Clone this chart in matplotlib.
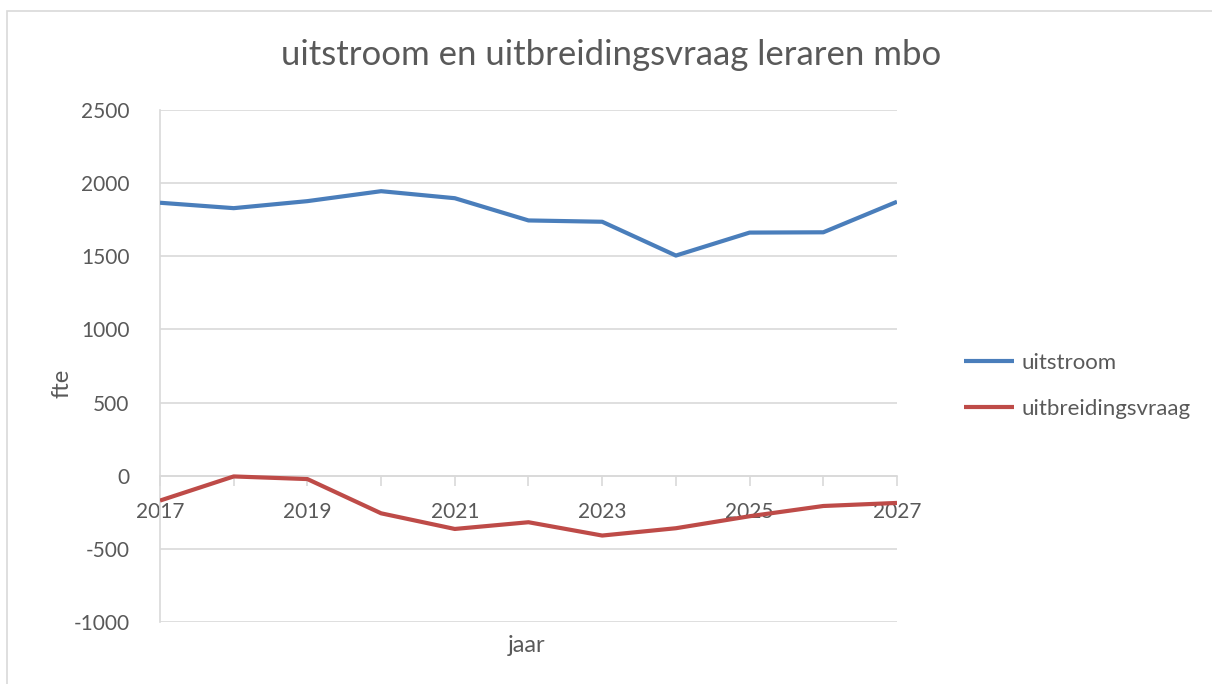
import matplotlib.pyplot as plt
from matplotlib.patches import Rectangle

plt.rcParams['font.family'] = ['Lato', 'DejaVu Sans']
plt.rcParams['axes.unicode_minus'] = False

jaren = [2017, 2018, 2019, 2020, 2021, 2022, 2023, 2024, 2025, 2026, 2027]
uitstroom = [1866, 1829, 1877, 1945, 1897, 1745, 1736, 1505, 1662, 1664, 1873]
uitbreidingsvraag = [-170, -5, -23, -257, -364, -318, -409, -359, -277, -207, -186]

tekst = '#595959'
raster = '#d9d9d9'

fig = plt.figure(figsize=(12.12, 6.84), dpi=100)
fig.patches.append(Rectangle((7 / 1212, -0.1), 1.2, 1 - 11 / 684 + 0.1,
                             transform=fig.transFigure, fill=False,
                             edgecolor=raster, linewidth=1.2))

ax = fig.add_axes([160 / 1212, 1 - 622 / 684, 737 / 1212, 512 / 684])
ax.plot(jaren, uitstroom, color='#4a7ebb', lw=3, label='uitstroom',
        solid_capstyle='butt', zorder=3)
ax.plot(jaren, uitbreidingsvraag, color='#be4b48', lw=3,
        label='uitbreidingsvraag', solid_capstyle='butt', zorder=3)

ax.set_xlim(2017, 2027)
ax.set_ylim(-1000, 2500)
ax.set_yticks(range(-1000, 2501, 500))
ax.set_xticks(range(2017, 2028, 2))
ax.set_xticks(range(2017, 2028), minor=True)
ax.grid(axis='y', color=raster, lw=1.2)
ax.set_axisbelow(True)

for s in ['top', 'right']:
    ax.spines[s].set_visible(False)
ax.spines['bottom'].set_position(('data', 0))
ax.spines['bottom'].set_color(raster)
ax.spines['left'].set_color(raster)
ax.spines['bottom'].set_linewidth(1.2)
ax.spines['left'].set_linewidth(1.2)

ax.tick_params(axis='y', length=0, pad=22, labelsize=15, labelcolor=tekst)
ax.tick_params(axis='x', which='both', direction='out', length=7, width=1.2,
               color=raster, pad=12, labelsize=15, labelcolor=tekst)

fig.text(62 / 1212, 1 - 383 / 684, 'fte', fontsize=17, color=tekst,
         ha='center', va='center', rotation=90)
fig.text(527 / 1212, 1 - 645 / 684, 'jaar', fontsize=17, color=tekst,
         ha='center', va='center')
fig.text(611 / 1212, 1 - 55 / 684, 'uitstroom en uitbreidingsvraag leraren mbo',
         fontsize=25, color=tekst, ha='center', va='center')

leg = ax.legend(loc='center left', bbox_to_anchor=(944 / 1212, 1 - 386 / 684),
                bbox_transform=fig.transFigure, frameon=False, fontsize=16,
                handlelength=2.25, handletextpad=0.35, labelspacing=1.15)
for t in leg.get_texts():
    t.set_color(tekst)

fig.savefig('out.png', dpi=100)
